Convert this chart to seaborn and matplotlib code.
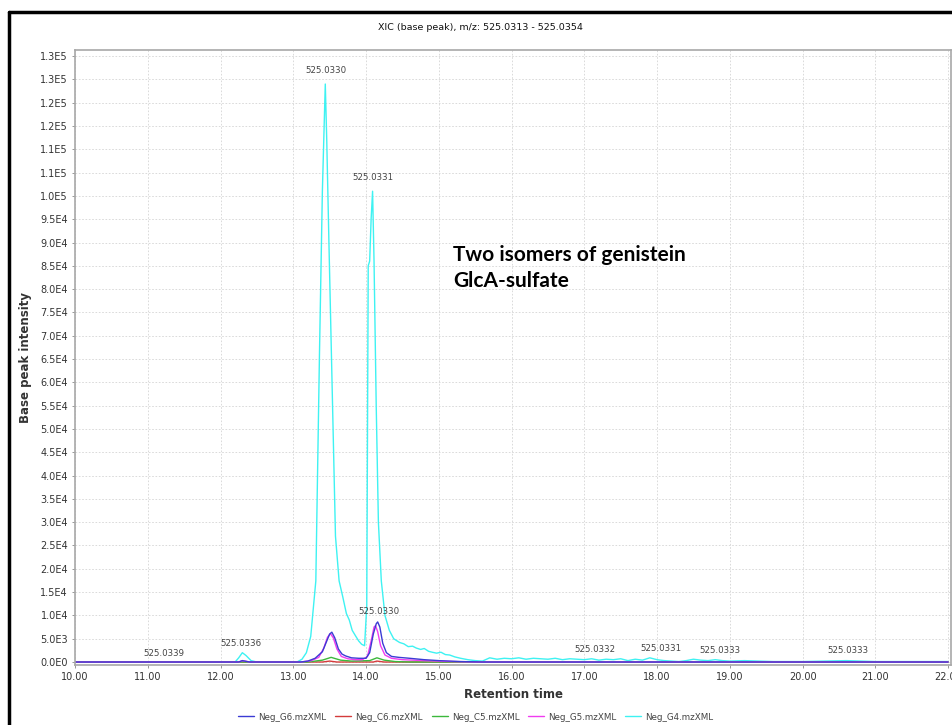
import numpy as np
import pandas as pd
import seaborn as sns
import matplotlib.pyplot as plt
from matplotlib.lines import Line2D

# Retention time / intensity traces
g4_time = [10.0, 12.2, 12.25, 12.3, 12.35, 12.42, 12.5, 13.05, 13.12, 13.18, 13.24, 13.31,
           13.36, 13.40, 13.44, 13.46, 13.49, 13.53, 13.58, 13.63, 13.68, 13.73, 13.77, 13.81,
           13.86, 13.90, 13.94, 13.98, 14.01, 14.03, 14.05, 14.07, 14.09, 14.11, 14.14, 14.17,
           14.21, 14.26, 14.32, 14.38, 14.46, 14.52, 14.58, 14.64, 14.69, 14.75, 14.80, 14.86,
           14.91, 14.97, 15.03, 15.09, 15.15, 15.22, 15.30, 15.40, 15.50, 15.60, 15.70, 15.80,
           15.90, 16.00, 16.10, 16.20, 16.30, 16.40, 16.50, 16.60, 16.70, 16.80, 16.90, 17.00,
           17.10, 17.20, 17.30, 17.40, 17.50, 17.60, 17.70, 17.80, 17.90, 18.00, 18.10, 18.20,
           18.30, 18.40, 18.50, 18.60, 18.70, 18.80, 18.90, 19.00, 19.20, 19.40, 19.60, 20.00,
           20.60, 21.00, 22.00]
g4_int = [0, 0, 900, 2000, 1400, 300, 0, 0, 600, 2000, 5500, 17400,
          66000, 101000, 124000, 112000, 90000, 62000, 27000, 17400, 14000, 10400, 9000, 6800,
          5500, 4500, 3800, 3500, 12000, 85000, 86000, 95000, 101000, 86000, 55000, 30000,
          17400, 10000, 6800, 5000, 4200, 3900, 3300, 3400, 3000, 2700, 2900, 2300,
          2100, 1900, 2100, 1600, 1500, 1100, 800, 500, 300, 200, 900, 600,
          800, 700, 900, 600, 800, 700, 600, 800, 500, 700, 600, 500,
          700, 400, 600, 500, 700, 300, 600, 400, 900, 500, 300, 200,
          100, 300, 600, 400, 300, 500, 300, 200, 300, 200, 100, 100,
          300, 100, 100]

g6_time = [10.0, 12.25, 12.3, 12.4, 13.1, 13.2, 13.3, 13.4, 13.46, 13.5, 13.53, 13.57,
           13.62, 13.67, 13.72, 13.8, 13.9, 14.0, 14.05, 14.1, 14.14, 14.16, 14.19, 14.23,
           14.28, 14.35, 14.45, 14.6, 14.8, 15.0, 15.3, 15.6, 22.0]
g6_int = [0, 0, 300, 0, 0, 200, 800, 2200, 4500, 6000, 6400, 5200,
          2800, 1700, 1300, 900, 800, 800, 2000, 6000, 8200, 8600, 7500, 4000,
          2000, 1200, 1000, 800, 500, 300, 100, 0, 0]

g5_time = [10.0, 12.25, 12.3, 12.4, 13.1, 13.25, 13.35, 13.42, 13.47, 13.51, 13.55, 13.6,
           13.66, 13.75, 13.85, 13.95, 14.02, 14.07, 14.11, 14.13, 14.16, 14.2, 14.26, 14.35,
           14.5, 14.8, 15.2, 15.5, 22.0]
g5_int = [0, 0, 300, 0, 0, 300, 1000, 3000, 5300, 6100, 5200, 2800,
          1200, 700, 500, 500, 1200, 4500, 7500, 7800, 6500, 3500, 1500, 800,
          500, 300, 100, 0, 0]

c5_time = [10.0, 13.2, 13.4, 13.52, 13.65, 13.8, 14.05, 14.15, 14.25, 14.4, 14.6, 22.0]
c5_int = [0, 0, 400, 1000, 400, 200, 300, 900, 400, 100, 0, 0]

c6_time = [10.0, 13.4, 13.5, 13.6, 14.1, 14.15, 14.25, 22.0]
c6_int = [0, 0, 200, 0, 0, 200, 0, 0]

series_names = ["Neg_G6.mzXML", "Neg_C6.mzXML", "Neg_C5.mzXML", "Neg_G5.mzXML", "Neg_G4.mzXML"]
series_colors = ["#3b3bd4", "#d43b3b", "#3cb83c", "#f03cf0", "#3ef2f2"]
draw_order = [4, 1, 2, 3, 0]  # cyan underneath, blue on top

# peak m/z labels: (time, intensity, text)
label_time = [11.22, 12.28, 13.45, 14.09, 14.18, 17.15, 18.06, 18.87, 20.63]
label_int = [1900, 3900, 127000, 104000, 10900, 2600, 2800, 2400, 2400]
label_text = ["525.0339", "525.0336", "525.0330", "525.0331", "525.0330",
              "525.0332", "525.0331", "525.0333", "525.0333"]

y_ticks = list(range(0, 130001, 5000))
y_tick_labels = ["0.0E0", "5.0E3", "1.0E4", "1.5E4", "2.0E4", "2.5E4", "3.0E4", "3.5E4",
                 "4.0E4", "4.5E4", "5.0E4", "5.5E4", "6.0E4", "6.5E4", "7.0E4", "7.5E4",
                 "8.0E4", "8.5E4", "9.0E4", "9.5E4", "1.0E5", "1.1E5", "1.1E5", "1.2E5",
                 "1.2E5", "1.3E5", "1.3E5"]
x_ticks = [10, 11, 12, 13, 14, 15, 16, 17, 18, 19, 20, 21, 22]

frames = []
for name, t, v in zip(series_names,
                      [g6_time, c6_time, c5_time, g5_time, g4_time],
                      [g6_int, c6_int, c5_int, g5_int, g4_int]):
    frames.append(pd.DataFrame({"time": t, "intensity": v, "sample": name}))
data = pd.concat(frames, ignore_index=True)

sns.set_style("white")
plt.rcParams["font.family"] = ["DejaVu Sans"]

fig = plt.figure(figsize=(9.52, 7.25), dpi=100)
ax = fig.add_axes([75 / 952, 1 - 665 / 725, (951 - 75) / 952, (665 - 50) / 725])

for i in draw_order:
    name, color = series_names[i], series_colors[i]
    sub = data[data["sample"] == name]
    sns.lineplot(data=sub, x="time", y="intensity", color=color, lw=1.0,
                 estimator=None, sort=False, ax=ax)

for t, v, s in zip(label_time, label_int, label_text):
    ax.text(t, v, s, fontsize=6.2, color="#444444", ha="center", va="center")

ax.text(15.2, 89500, "Two isomers of genistein\nGlcA-sulfate", fontsize=15,
        fontweight="bold", family="Lato", color="black", ha="left", va="top",
        linespacing=1.4)

ax.set_xlim(10, 22.04)
ax.set_ylim(-640, 131300)
ax.set_xticks(x_ticks)
ax.set_xticklabels([f"{x:.2f}" for x in x_ticks])
ax.set_yticks(y_ticks)
ax.set_yticklabels(y_tick_labels)
ax.tick_params(axis="both", labelsize=7, colors="#888888", labelcolor="#333333",
               length=2, width=0.6, pad=3)
ax.tick_params(axis="both", which="both", bottom=True, left=True)
ax.grid(True, color="#d5d5d5", lw=0.6, ls=(0, (2, 2)))
for sp in ax.spines.values():
    sp.set_color("#a8a8a8")
    sp.set_linewidth(1.2)

ax.set_xlabel("Retention time", fontsize=8.5, fontweight="bold", color="#333333", labelpad=4)
ax.set_ylabel("Base peak intensity", fontsize=8.5, fontweight="bold", color="#333333", labelpad=6)

fig.text(0.505, 1 - 28 / 725, "XIC (base peak), m/z: 525.0313 - 525.0354",
         fontsize=6.8, ha="center", va="center", color="#111111")

handles = [Line2D([], [], color=c, lw=1.0) for c in series_colors]
fig.legend(handles, series_names, loc="center", bbox_to_anchor=(0.5, 1 - 717 / 725), ncol=5,
           frameon=False, fontsize=6.3, handlelength=1.8, handletextpad=0.5,
           columnspacing=1.0, labelcolor="#444444")

# slide-style black frame
fig.add_artist(Line2D([9 / 952, 9 / 952], [0, 1 - 12 / 725], color="black", lw=2.5,
                      transform=fig.transFigure))
fig.add_artist(Line2D([9 / 952, 1], [1 - 12 / 725, 1 - 12 / 725], color="black", lw=2.5,
                      transform=fig.transFigure))

fig.savefig("out.png", dpi=100)
